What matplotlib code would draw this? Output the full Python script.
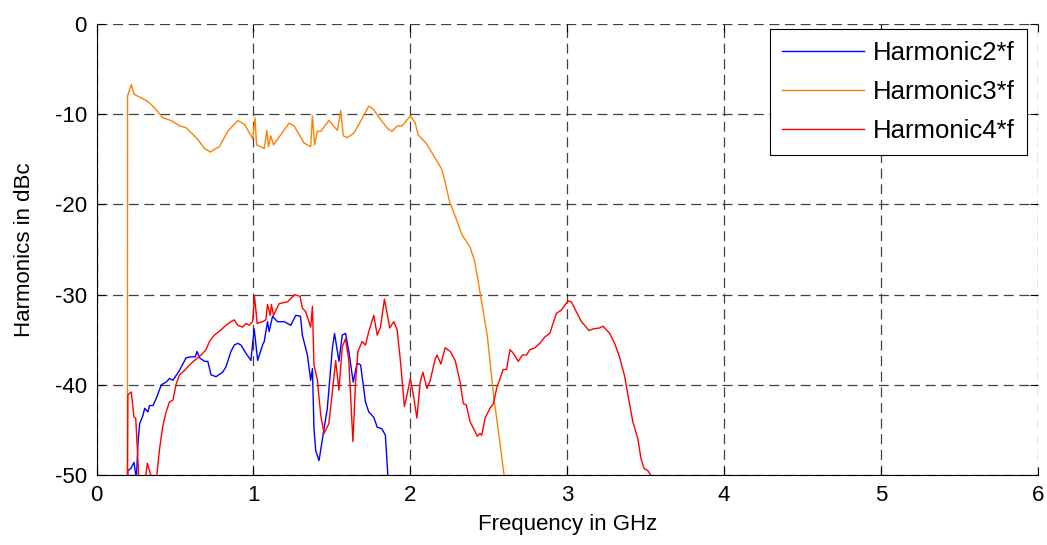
import numpy as np
import matplotlib.pyplot as plt

plt.rcParams['font.family'] = ['Liberation Sans', 'DejaVu Sans']
plt.rcParams['axes.unicode_minus'] = False

# Harmonic2*f
f2 = [0.197, 0.2, 0.218, 0.239, 0.254, 0.265, 0.275, 0.296, 0.307, 0.328, 0.338, 0.36,
      0.381, 0.413, 0.444, 0.465, 0.487, 0.529, 0.571, 0.603, 0.629, 0.641, 0.656, 0.688,
      0.709, 0.73, 0.762, 0.804, 0.825, 0.857, 0.878, 0.9, 0.921, 0.952, 0.984, 1.005,
      1.027, 1.058, 1.069, 1.09, 1.1, 1.122, 1.153, 1.196, 1.238, 1.27, 1.3, 1.312,
      1.344, 1.365, 1.376, 1.386, 1.397, 1.418, 1.44, 1.471, 1.503, 1.517, 1.545, 1.566,
      1.587, 1.608, 1.636, 1.661, 1.683, 1.714, 1.735, 1.767, 1.789, 1.82, 1.841, 1.858]
h2 = [-52, -49.5, -49.3, -48.6, -50.4, -46.3, -44.3, -43.4, -42.6, -43.0, -42.3, -42.3,
      -41.5, -40.0, -39.7, -39.3, -39.5, -38.4, -37.0, -36.9, -36.9, -36.3, -37.0, -37.4,
      -37.4, -38.9, -39.1, -38.6, -38.0, -36.3, -35.6, -35.4, -35.6, -36.5, -37.3, -33.8,
      -37.3, -35.6, -35.2, -33.0, -34.1, -32.4, -33.0, -33.0, -33.4, -32.3, -32.4, -34.5,
      -36.7, -39.5, -38.2, -44.9, -47.3, -48.4, -46.0, -42.6, -36.0, -34.3, -37.4, -34.5,
      -34.3, -36.3, -39.7, -37.6, -37.8, -41.9, -43.0, -43.6, -44.7, -44.9, -45.6, -50.4]

# Harmonic3*f
f3 = [0.197, 0.198, 0.222, 0.239, 0.286, 0.328, 0.37, 0.423, 0.476, 0.529, 0.571, 0.646,
      0.688, 0.726, 0.751, 0.783, 0.836, 0.9, 0.942, 0.995, 1.01, 1.02, 1.069, 1.086,
      1.096, 1.111, 1.128, 1.153, 1.227, 1.259, 1.323, 1.344, 1.365, 1.376, 1.39, 1.408,
      1.429, 1.481, 1.535, 1.556, 1.573, 1.598, 1.64, 1.683, 1.735, 1.767, 1.81, 1.862,
      1.884, 1.916, 1.947, 2.0, 2.03, 2.05, 2.1, 2.17, 2.2, 2.22, 2.25, 2.29, 2.33,
      2.38, 2.41, 2.44, 2.49, 2.53, 2.57, 2.60]
h3 = [-52, -8.0, -6.7, -7.8, -8.2, -8.6, -9.3, -10.4, -10.7, -11.3, -11.5, -12.8,
      -13.8, -14.2, -13.9, -13.6, -11.9, -10.7, -11.1, -12.7, -10.4, -13.4, -13.8, -11.8,
      -13.6, -12.4, -13.4, -12.8, -11.0, -11.3, -13.2, -13.4, -13.6, -10.2, -13.4, -11.9,
      -11.9, -10.7, -11.8, -9.6, -12.4, -12.6, -12.1, -10.8, -9.1, -9.5, -10.6, -11.7,
      -11.9, -11.3, -11.3, -10.2, -10.9, -12.3, -13.2, -15.2, -16.1, -17.4, -19.7, -21.5,
      -23.4, -24.7, -26.3, -29.3, -34.5, -41.1, -46.3, -50.4]

# Harmonic4*f
f4 = [0.197, 0.2, 0.222, 0.239, 0.25, 0.275, 0.3, 0.324, 0.349, 0.381, 0.402, 0.423,
      0.444, 0.465, 0.487, 0.508, 0.529, 0.561, 0.593, 0.624, 0.667, 0.698, 0.72, 0.751,
      0.794, 0.825, 0.857, 0.878, 0.9, 0.931, 0.952, 0.974, 0.995, 1.007, 1.024, 1.058,
      1.079, 1.09, 1.107, 1.115, 1.128, 1.164, 1.217, 1.263, 1.297, 1.312, 1.333, 1.365,
      1.376, 1.386, 1.408, 1.429, 1.45, 1.481, 1.503, 1.524, 1.545, 1.566, 1.587, 1.608,
      1.634, 1.651, 1.666, 1.693, 1.714, 1.735, 1.767, 1.789, 1.81, 1.835, 1.869, 1.894,
      1.916, 1.937, 1.962, 1.979, 2.0, 2.021, 2.042, 2.063, 2.08, 2.106, 2.127, 2.159,
      2.17, 2.195, 2.222, 2.254, 2.286, 2.317, 2.338, 2.356, 2.381, 2.413, 2.427, 2.444,
      2.455, 2.476, 2.508, 2.529, 2.55, 2.592, 2.613, 2.635, 2.656, 2.688, 2.714, 2.74,
      2.762, 2.794, 2.825, 2.857, 2.889, 2.93, 2.963, 3.005, 3.026, 3.058, 3.09, 3.111,
      3.139, 3.164, 3.206, 3.228, 3.27, 3.302, 3.333, 3.365, 3.375, 3.418, 3.45, 3.47,
      3.49, 3.513, 3.545]
h4 = [-52, -41.1, -40.8, -43.6, -43.7, -52, -52, -48.7, -50.2, -50.6, -47.1, -44.5,
      -43.0, -41.9, -41.7, -39.9, -38.9, -38.4, -37.8, -37.3, -36.7, -36.1, -35.2, -34.5,
      -33.9, -33.4, -33.0, -32.8, -33.4, -33.6, -33.2, -33.4, -33.0, -30.2, -33.2, -33.0,
      -32.8, -31.1, -32.3, -31.1, -32.3, -31.0, -30.8, -30.0, -30.2, -31.5, -31.9, -33.6,
      -31.3, -37.8, -39.5, -43.4, -45.4, -44.3, -40.8, -37.3, -40.6, -35.8, -34.9, -37.3,
      -46.3, -39.7, -36.3, -35.2, -35.6, -34.1, -32.3, -34.5, -33.6, -30.5, -33.7, -33.0,
      -33.9, -37.4, -42.4, -41.1, -39.3, -41.3, -43.7, -39.7, -38.6, -40.4, -39.5, -37.1,
      -36.7, -37.7, -35.9, -36.3, -37.3, -39.7, -42.1, -42.2, -44.1, -45.2, -45.7, -45.4,
      -45.6, -43.7, -42.6, -42.1, -40.4, -38.3, -38.3, -36.1, -36.5, -37.4, -36.7, -36.7,
      -36.1, -35.9, -35.4, -34.7, -34.3, -32.1, -31.7, -30.7, -30.8, -31.9, -33.0, -33.4,
      -34.0, -33.8, -33.7, -33.5, -34.3, -35.4, -36.9, -39.0, -40.0, -44.1, -46.0, -48.2,
      -49.3, -49.5, -50.4]

fig = plt.figure(figsize=(10.47, 5.45), dpi=100)
ax = fig.add_axes([96.5 / 1047, 70 / 545, 941.5 / 1047, 451 / 545])

ax.plot(f2, h2, color='#0000ff', lw=1.0, label='Harmonic2*f')
ax.plot(f3, h3, color='#ff8000', lw=1.0, label='Harmonic3*f')
ax.plot(f4, h4, color='#ff0000', lw=1.0, label='Harmonic4*f')

ax.set_xlim(0, 6)
ax.set_ylim(-50, 0)
ax.set_xticks(range(0, 7))
ax.set_yticks(range(-50, 1, 10))
ax.grid(True, linestyle=(0, (8, 4.5)), color='#404040', lw=0.9)
ax.spines['top'].set_visible(False)
ax.spines['right'].set_visible(False)
ax.tick_params(direction='in', top=True, right=True, length=6, labelsize=16,
               width=0.8, pad=7)
ax.set_xlabel('Frequency in GHz', fontsize=16, labelpad=6)
ax.set_ylabel('Harmonics in dBc', fontsize=16, labelpad=14)

leg = ax.legend(loc='upper right', fontsize=18.5, fancybox=False, framealpha=1,
                edgecolor='black', handlelength=3.2, handletextpad=0.35,
                borderpad=0.45, labelspacing=0.6, borderaxespad=0,
                bbox_to_anchor=(0.988, 0.989))
leg.get_frame().set_linewidth(0.8)

fig.savefig('out.png', dpi=100)
